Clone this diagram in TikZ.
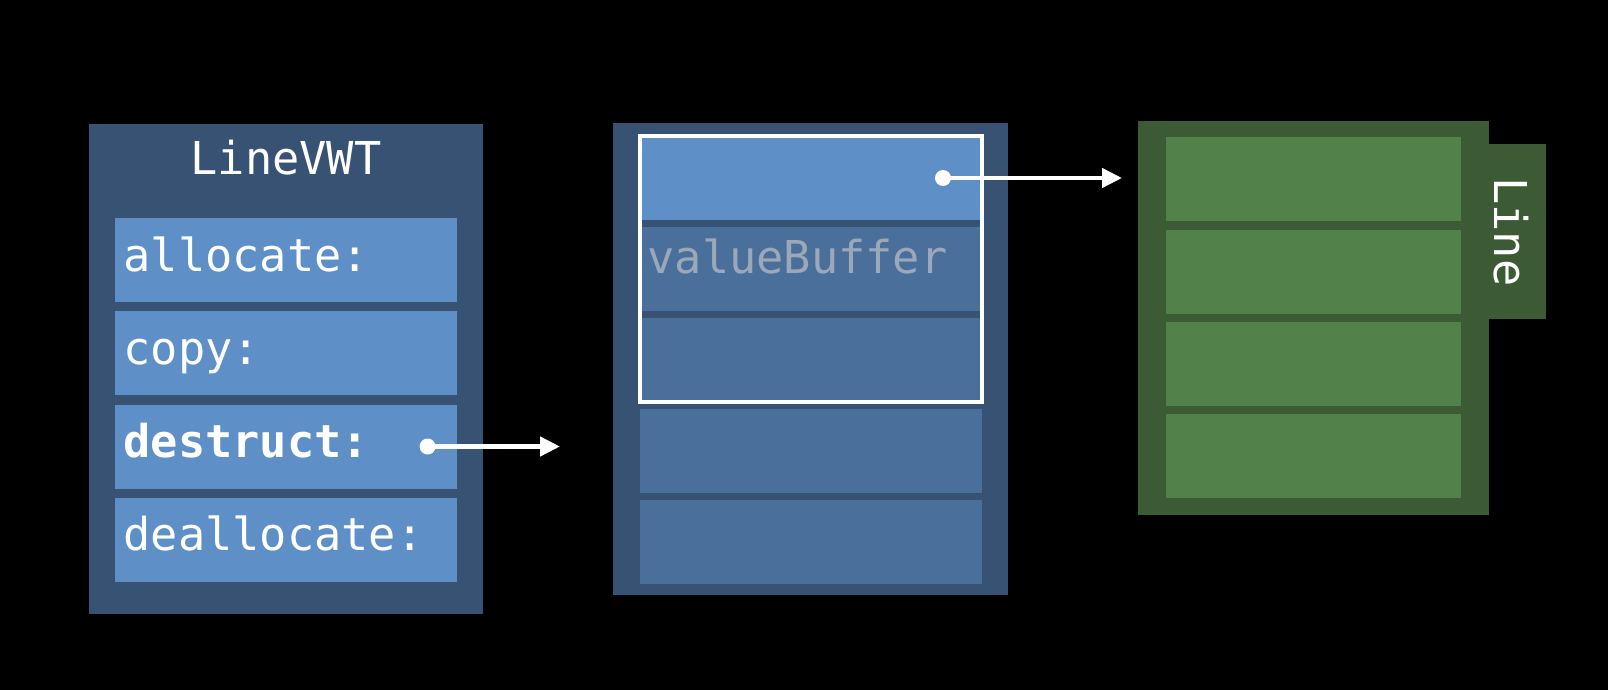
\documentclass[tikz,border=0pt]{standalone}
\usepackage{fontspec}
\setmonofont{DejaVu Sans Mono}
\usetikzlibrary{arrows.meta}
\definecolor{outerblue}{HTML}{375272}
\definecolor{lightslot}{HTML}{5E8FC6}
\definecolor{darkslot}{HTML}{4A6F9A}
\definecolor{outergreen}{HTML}{3C5A34}
\definecolor{greenslot}{HTML}{52814A}
\definecolor{fadedtext}{HTML}{9AA8B9}
\tikzset{
  box/.style={draw=none, inner sep=0pt, outer sep=0pt, anchor=north west},
  lbl/.style={inner sep=0pt, outer sep=0pt, text=white, font=\ttfamily\fontsize{45.3}{50}\selectfont},
  dotnode/.style={circle, fill=white, inner sep=0pt, outer sep=0pt, minimum size=16pt},
  ptr/.style={draw=white, line width=4.5pt, -{Triangle[length=20pt, width=19pt]}},
}
\begin{document}
\begin{tikzpicture}[x=1pt, y=-1pt]
\fill[black] (0,0) rectangle (1608,690);
\useasboundingbox (0,0) rectangle (1608,690);
% left table
\node[box, fill=outerblue, minimum width=394pt, minimum height=490pt] (vwt) at (89,124) {};
\node[lbl, anchor=base] (vwttitle) at (286,174) {LineVWT};
\foreach \i in {0,1,2,3}{
  \node[box, fill=lightslot, minimum width=342pt, minimum height=84pt] (s\i) at (115,{218+93.3*\i}) {};
}
\node[lbl, anchor=base west] (t0) at (123.5,271) {allocate:};
\node[lbl, anchor=base west] (t1) at (123.5,364) {copy:};
\node[lbl, anchor=base west, font=\ttfamily\bfseries\fontsize{45.3}{50}\selectfont] (t2) at (123.5,457) {destruct:};
\node[lbl, anchor=base west] (t3) at (123.5,550) {deallocate:};
% middle
\node[box, fill=outerblue, minimum width=395pt, minimum height=472pt] (exist) at (613,123) {};
\node[box, fill=lightslot, minimum width=342pt, minimum height=84pt] (m0) at (640,136) {};
\foreach \i in {1,2,3,4}{
  \node[box, fill=darkslot, minimum width=342pt, minimum height=84pt] (m\i) at (640,{136+91*\i}) {};
}
\node[lbl, anchor=base west, text=fadedtext] (vb) at (647.5,273) {valueBuffer};
\draw[white, line width=4pt] (639.7,136) rectangle (982,402);
% right
\node[box, fill=outergreen, minimum width=351pt, minimum height=394pt] (line) at (1138,121) {};
\node[box, fill=outergreen, minimum width=59pt, minimum height=175pt] (tab) at (1487,144) {};
\foreach \i in {0,1,2,3}{
  \node[box, fill=greenslot, minimum width=295pt, minimum height=84pt] (g\i) at (1166,{137.3+92.2*\i}) {};
}
\node[lbl, rotate=-90] (linelbl) at (1511,232) {Line};
% arrows
\node[dotnode] (d1) at (427.6,446.5) {};
\coordinate (e1) at (560,446.5);
\draw[ptr] (d1.center) -- (e1);
\node[dotnode] (d2) at (943,178) {};
\coordinate (e2) at (1122,178);
\draw[ptr] (d2.center) -- (e2);
\end{tikzpicture}
\end{document}
